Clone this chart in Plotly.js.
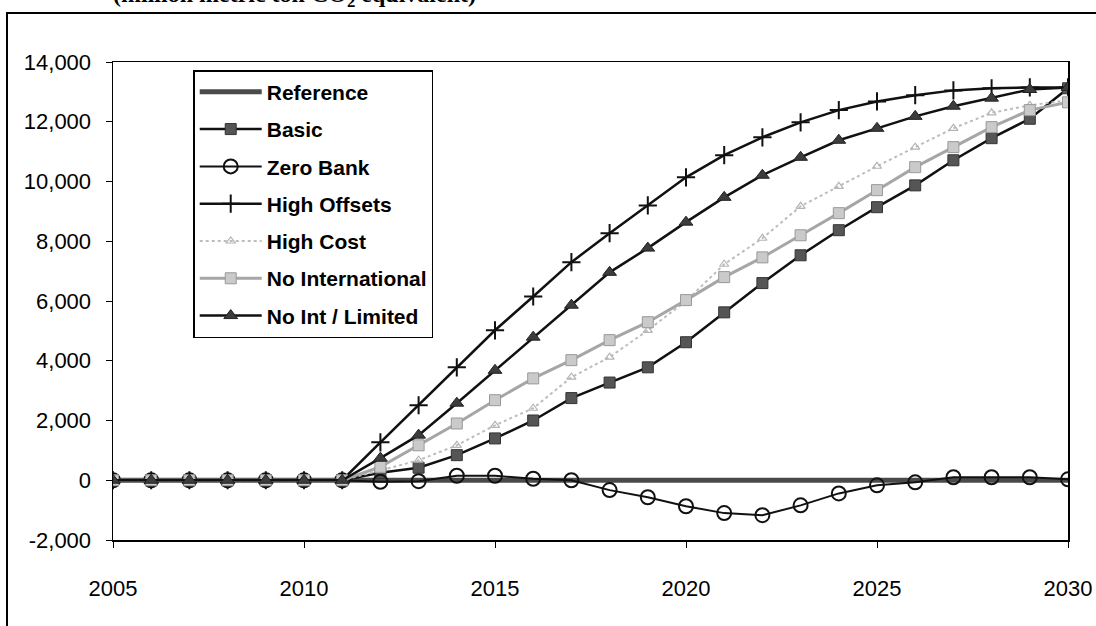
<!DOCTYPE html>
<html>
<head>
<meta charset="utf-8">
<script src="https://cdn.plot.ly/plotly-3.0.1.min.js"></script>
<style>html,body{margin:0;padding:0;background:#fff;}#chart{width:1096px;height:626px;}</style>
</head>
<body>
<div id="chart"></div>
<script>
const years = [2005,2006,2007,2008,2009,2010,2011,2012,2013,2014,2015,2016,2017,2018,2019,2020,2021,2022,2023,2024,2025,2026,2027,2028,2029,2030];
const reference = [0,0,0,0,0,0,0,0,0,0,0,0,0,0,0,0,0,0,0,0,0,0,0,0,0,0];
const basic = [0,0,0,0,0,0,0,250,420,840,1400,2000,2750,3270,3780,4620,5620,6600,7530,8370,9140,9870,10710,11450,12100,13120];
const zeroBank = [0,0,0,0,0,0,0,-50,-30,150,150,50,0,-330,-570,-870,-1100,-1170,-840,-440,-170,-70,100,100,100,30];
const highOffsets = [0,0,0,0,0,0,0,1270,2510,3780,5020,6150,7300,8270,9200,10140,10880,11480,11980,12390,12680,12890,13050,13120,13150,13150];
const highCost = [0,0,0,0,0,0,0,330,670,1170,1840,2410,3450,4120,5020,6000,7230,8100,9170,9840,10510,11150,11780,12300,12550,12720];
const noInternational = [0,0,0,0,0,0,0,450,1170,1900,2680,3410,4020,4690,5290,6030,6800,7460,8200,8940,9710,10480,11150,11820,12390,12650];
const noIntLimited = [0,0,0,0,0,0,0,740,1510,2580,3680,4790,5860,6960,7770,8640,9470,10210,10810,11380,11780,12180,12520,12790,13080,13150];
const seriesNames = ["Reference","Basic","Zero Bank","High Offsets","High Cost","No International","No Int / Limited"];
const yTickVals = [-2000,0,2000,4000,6000,8000,10000,12000,14000];
const yTickText = ["-2,000","0","2,000","4,000","6,000","8,000","10,000","12,000","14,000"];
const xTickVals = [2005,2010,2015,2020,2025,2030];
const xTickText = ["2005","2010","2015","2020","2025","2030"];
const titleText = "(million metric ton CO<sub>2</sub> equivalent)";

const traces = [
  {x: years, y: reference, name: seriesNames[0], mode: 'lines', line: {color: '#4a4a4a', width: 5}},
  {x: years, y: basic, name: seriesNames[1], mode: 'lines+markers', line: {color: '#111', width: 2.5},
   marker: {symbol: 'square', size: 11, color: '#555', line: {color: '#333', width: 1}}},
  {x: years, y: zeroBank, name: seriesNames[2], mode: 'lines+markers', line: {color: '#111', width: 2},
   marker: {symbol: 'circle-open', size: 14, color: '#111', line: {width: 2}}},
  {x: years, y: highOffsets, name: seriesNames[3], mode: 'lines+markers', line: {color: '#111', width: 2.5},
   marker: {symbol: 'cross-thin', size: 13, color: '#111', line: {color: '#111', width: 2}}},
  {x: years, y: highCost, name: seriesNames[4], mode: 'lines+markers', line: {color: '#bdbdbd', width: 2, dash: 'dot'},
   marker: {symbol: 'triangle-up-open', size: 8, color: '#b5b5b5', line: {width: 1.2}}},
  {x: years, y: noInternational, name: seriesNames[5], mode: 'lines+markers', line: {color: '#a6a6a6', width: 3},
   marker: {symbol: 'square', size: 11, color: '#cacaca', line: {color: '#999', width: 1}}},
  {x: years, y: noIntLimited, name: seriesNames[6], mode: 'lines+markers', line: {color: '#111', width: 2.5},
   marker: {symbol: 'triangle-up', size: 12, color: '#3c3c3c', line: {color: '#222', width: 1}}}
];
traces.forEach((t, i) => { t.legendgroup = 'g' + i; });

const axisFont = {family: '"Liberation Sans", Arial, sans-serif', size: 22, color: '#000'};

const layout = {
  width: 1096, height: 626,
  margin: {l: 113, r: 28, t: 62, b: 86},
  paper_bgcolor: '#fff', plot_bgcolor: '#fff',
  showlegend: true,
  legend: {
    x: 0.084, y: 0.983, xanchor: 'left', yanchor: 'top',
    bgcolor: '#fff', bordercolor: '#000', borderwidth: 1.5,
    font: {family: '"Liberation Sans", Arial, sans-serif', size: 21, weight: 'bold', color: '#000'},
    traceorder: 'grouped', tracegroupgap: 7, itemwidth: 62
  },
  xaxis: {
    range: [2005, 2030], tickvals: xTickVals, ticktext: xTickText,
    showgrid: false, zeroline: false, showline: true, mirror: true,
    linecolor: '#000', linewidth: 1.5, ticks: 'outside', ticklen: 6, tickcolor: '#000',
    tickfont: axisFont, ticklabelstandoff: 22
  },
  yaxis: {
    range: [-2000, 14000], tickvals: yTickVals, ticktext: yTickText,
    showgrid: false, zeroline: false, showline: true, mirror: true,
    linecolor: '#000', linewidth: 1.5, ticks: 'outside', ticklen: 6, tickcolor: '#000',
    tickfont: axisFont, ticklabelstandoff: 10
  },
  annotations: [{
    text: titleText, xref: 'paper', yref: 'paper', x: 0.19, y: 1.103,
    xanchor: 'center', yanchor: 'bottom', showarrow: false,
    font: {family: '"Liberation Serif", "Times New Roman", serif', size: 24, weight: 'bold', color: '#000'}
  }],
  shapes: [{
    type: 'rect', xref: 'paper', yref: 'paper',
    x0: -0.111, x1: 1.2, y0: -0.4, y1: 1.1025,
    line: {color: '#000', width: 2}, fillcolor: 'rgba(0,0,0,0)', layer: 'below'
  }]
};

Plotly.newPlot('chart', traces, layout, {displayModeBar: false, staticPlot: true});
</script>
</body>
</html>
